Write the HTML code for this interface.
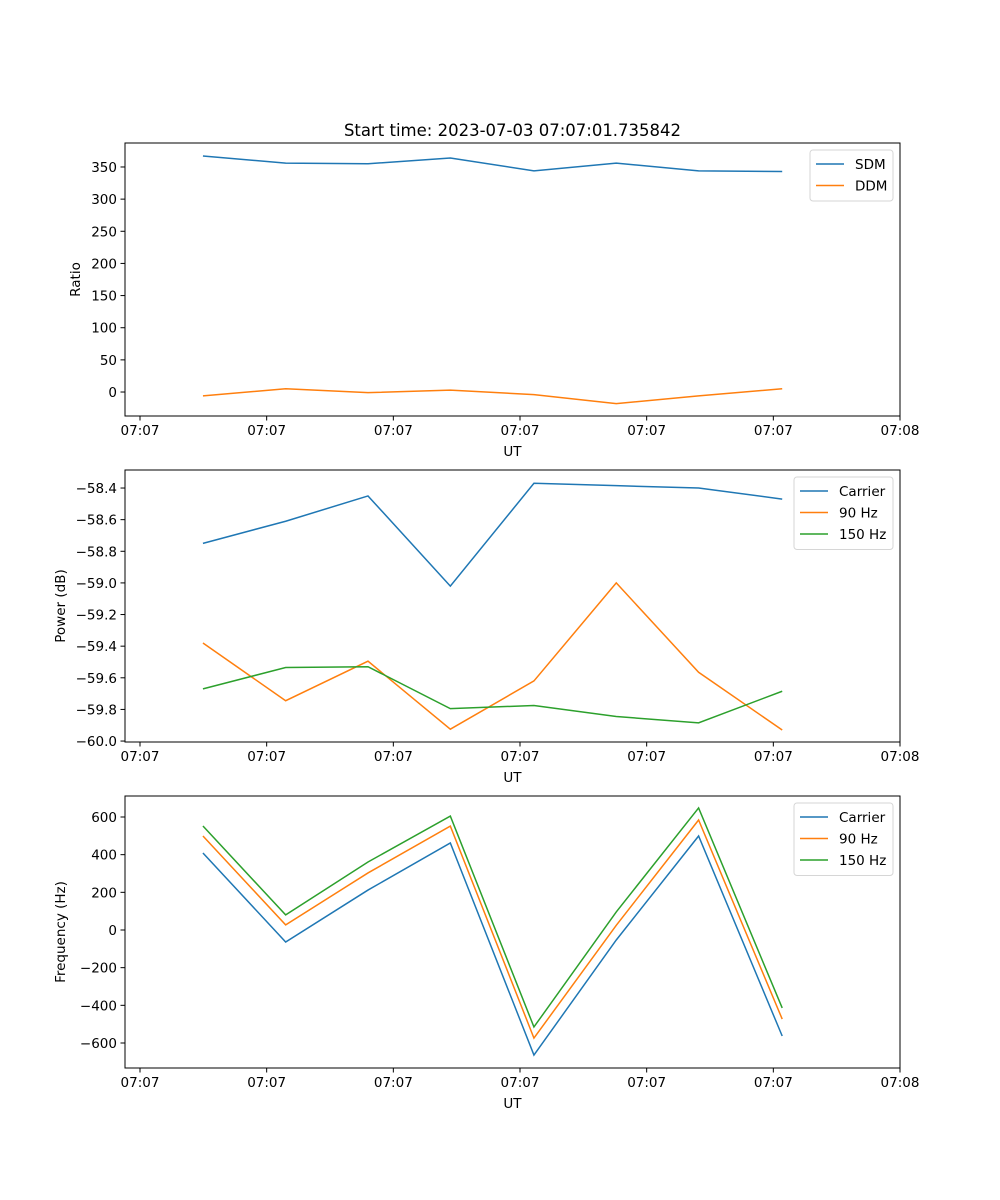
<!DOCTYPE html>
<html><head><meta charset="utf-8"><style>
body{margin:0;background:#fff}
svg{display:block;font-family:"DejaVu Sans","Liberation Sans",sans-serif}
</style></head><body>
<svg id="fig" width="1000" height="1200" viewBox="0 0 1000 1200"></svg>
<script>
const times=[4.97,11.5,18.0,24.5,31.1,37.6,44.1,50.7];
const xTickVals=[0,10,20,30,40,50,60];
const xTickLabels=["07:07","07:07","07:07","07:07","07:07","07:07","07:08"];
const sdm=[367,356,355,364,344,356,344,343];
const ddm=[-6,5,-1,3,-4,-18,-6,5];
const pCarrier=[-58.75,-58.61,-58.45,-59.02,-58.37,-58.385,-58.40,-58.47];
const p90=[-59.38,-59.745,-59.495,-59.925,-59.62,-59.0,-59.565,-59.93];
const p150=[-59.67,-59.535,-59.53,-59.795,-59.775,-59.845,-59.885,-59.685];
const fCarrier=[409,-64,212,462,-664,-53,499,-563];
const f90=[499,27,303,552,-574,25,584,-473];
const f150=[552,80,361,605,-515,96,648,-414];
const ticks1=[0,50,100,150,200,250,300,350];
const ticks2=[-60.0,-59.8,-59.6,-59.4,-59.2,-59.0,-58.8,-58.6,-58.4];
const ticks3=[-600,-400,-200,0,200,400,600];
const C=["#1f77b4","#ff7f0e","#2ca02c"];
const svg=document.getElementById('fig');
const NS="http://www.w3.org/2000/svg";
function mk(t,a,p){const e=document.createElementNS(NS,t);for(const k in a)e.setAttribute(k,a[k]);(p||svg).appendChild(e);return e;}
const L=125,R=900;
const xs=v=>140+(v)*(760/60);
const t=mk('text',{x:512.5,y:136,'text-anchor':'middle','font-size':'16.5'});t.textContent="Start time: 2023-07-03 07:07:01.735842";


function panel(idx,top,bot,ymin,ymax,ticks,fmt,ylabel,series,names,legW){
 const g=mk('g',{});
 
 
 const ys=v=>bot-(v-ymin)/(ymax-ymin)*(bot-top);
 xTickVals.forEach((v,i)=>{const x=xs(v);mk('line',{x1:x,x2:x,y1:bot,y2:bot+4.5,stroke:'#000','stroke-width':1},g);
  const tx=mk('text',{x:x,y:bot+19,'text-anchor':'middle','font-size':'13.5'},g);tx.textContent=xTickLabels[i];
  
  });
 ticks.forEach(v=>{const y=ys(v);mk('line',{x1:L,x2:L-4.5,y1:y,y2:y,stroke:'#000','stroke-width':1},g);
  const tx=mk('text',{x:L-8,y:y+5,'text-anchor':'end','font-size':'13.5'},g);tx.textContent=fmt(v);
  
  });
 series.forEach((s,i)=>{const p=mk('polyline',{points:s.map((v,j)=>xs(times[j])+','+ys(v)).join(' '),fill:'none',stroke:C[i],'stroke-width':1.5},g);
  
  });
 const fr=mk('rect',{x:L,y:top,width:R-L,height:bot-top,fill:'none',stroke:'#000','stroke-width':1},g);
 const xl=mk('text',{x:512.5,y:bot+40,'text-anchor':'middle','font-size':'13.5'},g);xl.textContent="UT";
 
 
 const yl=mk('text',{x:0,y:0,'text-anchor':'middle','font-size':'13.5',transform:`translate(${idx==1?80:65},${(top+bot)/2}) rotate(-90)`},g);yl.textContent=ylabel;
 
 
 const lx=R-7-legW,ly=top+7,lh=names.length*21.5+8;
 const lg=mk('g',{},g);
 
 
 mk('rect',{x:lx,y:ly,width:legW,height:lh,rx:3,fill:'#fff',stroke:'#ccc','stroke-width':1,opacity:0.8},lg);
 names.forEach((n,i)=>{const y=ly+14+i*21.5;
  mk('line',{x1:lx+6,x2:lx+34,y1:y,y2:y,stroke:C[i],'stroke-width':1.5},lg);
  const tx=mk('text',{x:lx+45,y:y+5,'font-size':'13.5'},lg);tx.textContent=n;
  
  });
}
panel(1,143,416,-37.3,387.3,ticks1,v=>String(v),"Ratio",[sdm,ddm],["SDM","DDM"],83);
panel(2,470,742,-60.006,-58.286,ticks2,v=>(v<0?"\u2212":"")+Math.abs(v).toFixed(1),"Power (dB)",[pCarrier,p90,p150],["Carrier","90 Hz","150 Hz"],99);
panel(3,796,1068,-732.8,711.5,ticks3,v=>(v<0?"\u2212":"")+Math.abs(v),"Frequency (Hz)",[fCarrier,f90,f150],["Carrier","90 Hz","150 Hz"],99);
</script>
</body></html>
